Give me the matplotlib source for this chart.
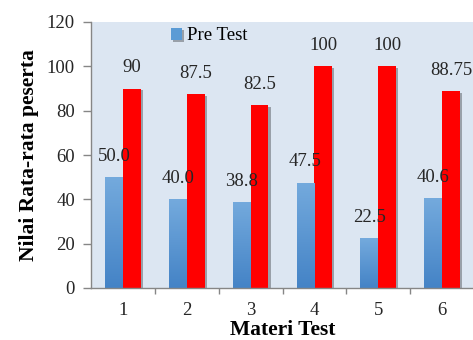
import numpy as np
import matplotlib
matplotlib.use('Agg')
import matplotlib.pyplot as plt
import matplotlib.patheffects as pe
from matplotlib.colors import LinearSegmentedColormap

plt.rcParams['font.family'] = 'Liberation Serif'

categories = ['1', '2', '3', '4', '5', '6']
pre_test = [50.0, 40.0, 38.8, 47.5, 22.5, 40.6]
post_test = [90, 87.5, 82.5, 100, 100, 88.75]
pre_labels = ['50.0', '40.0', '38.8', '47.5', '22.5', '40.6']
post_labels = ['90', '87.5', '82.5', '100', '100', '88.75']

W, H = 473, 340
fig = plt.figure(figsize=(W / 100, H / 100), dpi=100)
ax = fig.add_axes([91 / W, 1 - 288 / H, 383 / W, 266 / H])
ax.set_facecolor('#dce6f2')

x = np.arange(len(categories))
bw = 0.28
shadow = [pe.SimplePatchShadow(offset=(1.5, -1.2), shadow_rgbFace='k', alpha=0.3), pe.Normal()]

pre_bars = ax.bar(x - bw, pre_test, width=bw, align='edge', color='#5b9bd5',
                  label='Pre Test', zorder=2, path_effects=shadow)
post_bars = ax.bar(x, post_test, width=bw, align='edge', color='#ff0000',
                   zorder=2, path_effects=shadow)

# vertical gradient on the blue bars
cmap = LinearSegmentedColormap.from_list('blu', ['#4483c6', '#74aadd'])
grad = np.linspace(0, 1, 256).reshape(-1, 1)
for b in pre_bars:
    x0, y0 = b.get_x(), b.get_y()
    im = ax.imshow(grad, cmap=cmap, origin='lower', aspect='auto',
                   extent=[x0, x0 + b.get_width(), y0, y0 + b.get_height()], zorder=2.1)
    im.set_clip_path(b)

for b, t in zip(pre_bars, pre_labels):
    ax.annotate(t, (b.get_x() + b.get_width() / 2, b.get_height()), xytext=(0, 15),
                textcoords='offset points', ha='center', va='center', fontsize=13.5,
                color='#262626', zorder=4)
for b, t in zip(post_bars, post_labels):
    ax.annotate(t, (b.get_x() + b.get_width() / 2, b.get_height()), xytext=(0, 15),
                textcoords='offset points', ha='center', va='center', fontsize=13.5,
                color='#262626', zorder=4)

ax.set_xlim(-0.5, 5.5)
ax.set_ylim(0, 120)
ax.set_yticks(range(0, 121, 20))
ax.set_xticks(x)
ax.set_xticklabels(categories)
ax.set_xticks(np.arange(0.5, 5.5, 1), minor=True)
ax.tick_params(axis='x', which='major', length=0, pad=10, labelsize=13.5, labelcolor='#262626')
ax.tick_params(axis='x', which='minor', length=4.5, width=1, color='#868686', direction='out')
ax.tick_params(axis='y', length=5.5, width=1, color='#868686', pad=6, labelsize=13.5,
               labelcolor='#262626')
for s in ['top', 'right']:
    ax.spines[s].set_visible(False)
for s in ['left', 'bottom']:
    ax.spines[s].set_color('#868686')
    ax.spines[s].set_linewidth(1)

ax.set_xlabel('Materi Test', fontsize=15.5, fontweight='bold', labelpad=1)
ax.set_ylabel('Nilai Rata-rata peserta', fontsize=15.5, fontweight='bold', labelpad=6)

fig.legend(handles=[pre_bars], loc='center left', bbox_to_anchor=(163 / W, 1 - 36 / H),
           frameon=False, fontsize=13.5, handlelength=0.6, handleheight=0.6,
           handletextpad=0.3, borderaxespad=0)

fig.savefig('out.png', dpi=100)
